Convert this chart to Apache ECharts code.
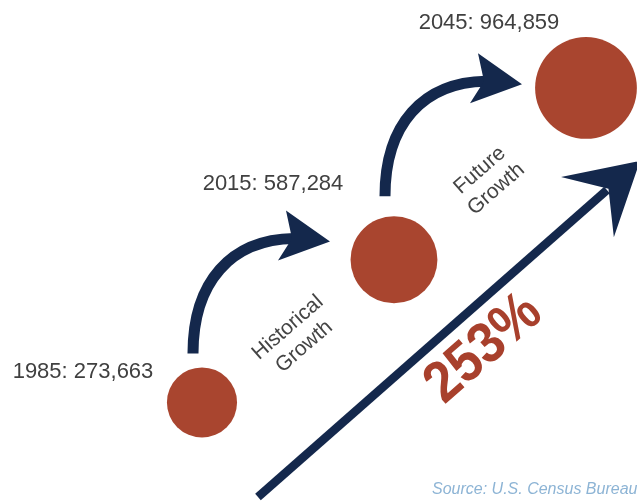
<!DOCTYPE html>
<html>
<head>
<meta charset="utf-8">
<script src="https://cdn.jsdelivr.net/npm/echarts@6/dist/echarts.min.js"></script>
<style>html,body{margin:0;padding:0;background:#fff}#c{width:637px;height:502px}</style>
</head>
<body>
<div id="c"></div>
<script>
// ---- data ----
const years = [1985, 2015, 2045];
const population = [273663, 587284, 964859];
const growthLabels = ['Historical\nGrowth', 'Future\nGrowth'];
const sourceText = 'Source: U.S. Census Bureau';

// ---- layout / style constants ----
const FONT = 'Liberation Sans, Arial, sans-serif';
const NAVY = '#14284c';
const RUST = '#a9452f';
const labelOffsets = [[-119, -31], [-121, -76], [-97, -65]];
const sizeOf = v => 34 + 0.069 * Math.sqrt(v);
const fmt = v => v.toString().replace(/\B(?=(\d{3})+(?!\d))/g, ',');

const first = population[0], last = population[population.length - 1];
const pctText = Math.round((last / first - 1) * 100) + '%';

const chart = echarts.init(document.getElementById('c'), null, {renderer: 'canvas'});

function renderItem(params, api) {
  const i = params.dataIndex, n = years.length;
  const children = [];
  if (i < n - 1) {
    const a = api.coord([years[i], population[i]]);
    const b = api.coord([years[i + 1], population[i + 1]]);
    const mx = (a[0] + b[0]) / 2, my = (a[1] + b[1]) / 2;
    const sx = mx - 105, sy = my + 22.5;
    children.push({
      type: 'bezierCurve',
      shape: {x1: sx, y1: sy, cpx1: sx, cpy1: sy - 72, cpx2: sx + 38, cpy2: sy - 114, x2: sx + 101, y2: sy - 115},
      style: {stroke: NAVY, lineWidth: 11, fill: null}
    });
    children.push({
      type: 'polygon',
      shape: {points: [[sx + 137, sy - 112], [sx + 93, sy - 143], [sx + 99, sy - 115], [sx + 85, sy - 93]]},
      style: {fill: NAVY}
    });
    children.push({
      type: 'text',
      x: mx - 2, y: my + 6,
      rotation: 41 * Math.PI / 180,
      style: {text: growthLabels[i], x: 0, y: 0, fill: '#444', fontSize: 21, lineHeight: 25,
              fontFamily: FONT, align: 'center', verticalAlign: 'middle'}
    });
  }
  if (i === 0) {
    const p0 = api.coord([years[0], population[0]]);
    const p1 = api.coord([years[n - 1], population[n - 1]]);
    const s = [p0[0] + 56, p0[1] + 94.5];
    const t = [p1[0] + 54, p1[1] + 73];
    const dx = t[0] - s[0], dy = t[1] - s[1];
    const len = Math.sqrt(dx * dx + dy * dy);
    const u = [dx / len, dy / len];
    const nn = [-u[1], u[0]];
    const notch = [t[0] - 42 * u[0], t[1] - 42 * u[1]];
    const back = [t[0] - 70 * u[0], t[1] - 70 * u[1]];
    children.push({
      type: 'line',
      shape: {x1: s[0], y1: s[1], x2: notch[0] - 2 * u[0], y2: notch[1] - 2 * u[1]},
      style: {stroke: NAVY, lineWidth: 8.5}
    });
    children.push({
      type: 'polygon',
      shape: {points: [t, [back[0] + 40 * nn[0], back[1] + 40 * nn[1]], notch, [back[0] - 40 * nn[0], back[1] - 40 * nn[1]]]},
      style: {fill: NAVY}
    });
    const mx = (s[0] + t[0]) / 2 + 13 * u[0] + 38 * nn[0];
    const my = (s[1] + t[1]) / 2 + 13 * u[1] + 38 * nn[1];
    children.push({
      type: 'text',
      x: mx, y: my,
      scaleX: 0.9,
      rotation: Math.atan2(-u[1], u[0]),
      style: {text: pctText, x: 0, y: 0, fill: '#a8402c', fontSize: 58, fontWeight: 'bold',
              fontFamily: FONT, align: 'center', verticalAlign: 'middle'}
    });
  }
  return {type: 'group', children};
}

const points = years.map((y, i) => [y, population[i]]);

chart.setOption({
  animation: false,
  backgroundColor: '#ffffff',
  grid: {left: 0, right: 0, top: 0, bottom: 0},
  xAxis: {type: 'value', min: 1953.44, max: 2052.97, show: false},
  yAxis: {type: 'value', min: 55000, max: 1158000, show: false},
  series: [
    {
      type: 'custom',
      renderItem: renderItem,
      data: points,
      z: 1,
      silent: true
    },
    {
      type: 'scatter',
      z: 2,
      data: points.map((p, i) => ({
        value: p,
        label: {offset: labelOffsets[i]}
      })),
      symbolSize: v => sizeOf(v[1]),
      itemStyle: {color: RUST, opacity: 1},
      label: {
        show: true,
        position: 'inside',
        align: 'center',
        verticalAlign: 'middle',
        formatter: p => p.value[0] + ': ' + fmt(p.value[1]),
        color: '#404040',
        fontSize: 22,
        fontFamily: FONT
      }
    }
  ],
  graphic: [{
    type: 'text',
    left: 432,
    top: 482,
    style: {text: sourceText, fill: '#8db4d5', fontSize: 16, fontStyle: 'italic', fontFamily: FONT}
  }]
});
</script>
</body>
</html>
